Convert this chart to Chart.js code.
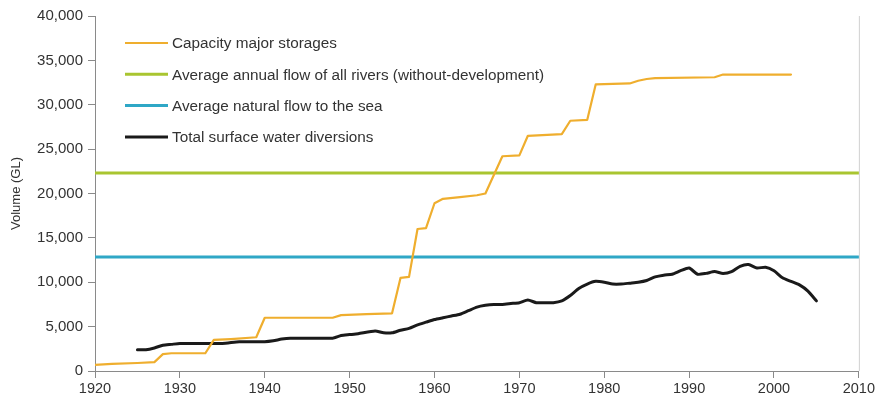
<!DOCTYPE html>
<html>
<head>
<meta charset="utf-8">
<script src="https://cdn.jsdelivr.net/npm/chart.js@4.4.1/dist/chart.umd.min.js"></script>
<style>
  html, body { margin: 0; padding: 0; background: #ffffff; }
  #wrap { width: 877px; height: 407px; }
</style>
</head>
<body>
<div id="wrap"><canvas id="c" width="877" height="407"></canvas></div>
<script>
// ---- Data ----
const seriesLabels = [
  "Capacity major storages",
  "Average annual flow of all rivers (without-development)",
  "Average natural flow to the sea",
  "Total surface water diversions"
];

const capYears  = [1920,1922,1925,1927,1928,1929,1933,1934,1936,1939,1940,1948,1949,1952,1955,1956,1957,1958,1959,1960,1961,1963,1965,1966,1968,1970,1971,1975,1976,1978,1979,1983,1984,1985,1986,1993,1994,2002];
const capValues = [700,800,900,1000,1900,2000,2000,3500,3600,3800,6000,6000,6300,6400,6500,10500,10600,16000,16100,18900,19400,19600,19800,20000,24200,24300,26500,26700,28200,28300,32300,32400,32700,32900,33000,33100,33400,33400];

const flowYears  = [1920, 2010];
const flowValues = [22300, 22300];

const seaYears  = [1920, 2010];
const seaValues = [12850, 12850];

const divYears  = [1925,1926,1927,1928,1929,1930,1935,1937,1940,1941,1942,1943,1948,1949,1950,1951,1953,1954,1955,1956,1957,1958,1959,1960,1961,1962,1963,1964,1965,1966,1967,1968,1969,1970,1971,1972,1973,1974,1975,1976,1977,1978,1979,1980,1981,1982,1983,1984,1985,1986,1987,1988,1989,1990,1991,1992,1993,1994,1995,1996,1997,1998,1999,2000,2001,2002,2003,2004,2005];
const divValues = [2400,2400,2600,2900,3000,3100,3100,3300,3300,3400,3600,3700,3700,4000,4100,4200,4500,4300,4300,4600,4800,5200,5500,5800,6000,6200,6400,6800,7200,7400,7500,7500,7600,7700,8000,7700,7700,7700,7900,8500,9300,9800,10100,10000,9800,9800,9900,10000,10200,10600,10800,10900,11300,11600,10900,11000,11200,11000,11200,11800,12000,11600,11700,11300,10500,10100,9700,9000,7900];

const xTicks = [1920,1930,1940,1950,1960,1970,1980,1990,2000,2010];
const yTicks = [0,5000,10000,15000,20000,25000,30000,35000,40000];

const colors = ["#EFAE2E", "#A9C530", "#2FA7C6", "#1A1A1A"];
const widths = [2.2, 3, 3, 3];

function pts(xs, ys) { return xs.map((x, i) => ({ x: x, y: ys[i] })); }

const FONT = "'Liberation Sans', Arial, sans-serif";

// legend drawn inside the plot area
const insideLegend = {
  id: 'insideLegend',
  afterDatasetsDraw(chart) {
    const ctx = chart.ctx;
    const a = chart.chartArea;
    const x0 = a.left + 30, x1 = a.left + 73, tx = a.left + 77;
    const y0 = a.top + 27, dy = 31.3;
    ctx.save();
    ctx.font = "15.3px " + FONT;
    ctx.textBaseline = 'middle';
    ctx.textAlign = 'left';
    chart.data.datasets.forEach((ds, i) => {
      const y = y0 + i * dy;
      ctx.strokeStyle = ds.borderColor;
      ctx.lineWidth = ds.borderWidth;
      ctx.beginPath();
      ctx.moveTo(x0, y);
      ctx.lineTo(x1, y);
      ctx.stroke();
      ctx.fillStyle = '#333333';
      ctx.fillText(ds.label, tx, y + 1);
    });
    ctx.restore();
  }
};

const rightFrame = {
  id: 'rightFrame',
  beforeDatasetsDraw(chart) {
    const ctx = chart.ctx;
    const a = chart.chartArea;
    ctx.save();
    ctx.strokeStyle = '#d0d0d0';
    ctx.lineWidth = 1;
    ctx.beginPath();
    ctx.moveTo(a.right + 0.5, a.top);
    ctx.lineTo(a.right + 0.5, a.bottom);
    ctx.stroke();
    ctx.restore();
  }
};

new Chart(document.getElementById('c'), {
  type: 'line',
  data: {
    datasets: [
      { label: seriesLabels[0], data: pts(capYears, capValues) },
      { label: seriesLabels[1], data: pts(flowYears, flowValues) },
      { label: seriesLabels[2], data: pts(seaYears, seaValues) },
      { label: seriesLabels[3], data: pts(divYears, divValues) }
    ].map((d, i) => Object.assign(d, {
      borderColor: colors[i],
      backgroundColor: colors[i],
      borderWidth: widths[i],
      pointRadius: 0,
      fill: false,
      tension: i === 3 ? 0.2 : 0,
      borderJoinStyle: 'round',
      borderCapStyle: 'round'
    }))
  },
  options: {
    responsive: false,
    animation: false,
    layout: { autoPadding: false, padding: { left: 0, right: 13, top: 16, bottom: 0 } },
    plugins: {
      legend: { display: false },
      tooltip: { enabled: false }
    },
    scales: {
      x: {
        type: 'linear',
        min: 1920, max: 2010,
        afterBuildTicks: s => { s.ticks = xTicks.map(v => ({ value: v })); },
        afterFit: s => { s.height = 36; },
        ticks: {
          font: { family: FONT, size: 14.5 },
          color: '#333333',
          padding: 2,
          maxRotation: 0,
          callback: v => String(v)
        },
        grid: { drawOnChartArea: false, drawTicks: true, tickLength: 7, color: '#8a8a8a' },
        border: { display: true, color: '#8a8a8a', width: 1 }
      },
      y: {
        type: 'linear',
        min: 0, max: 40000,
        afterBuildTicks: s => { s.ticks = yTicks.map(v => ({ value: v })); },
        afterFit: s => { s.width = 95; },
        ticks: {
          font: { family: FONT, size: 15 },
          color: '#333333',
          padding: 5,
          callback: v => v.toLocaleString('en-US')
        },
        grid: { drawOnChartArea: false, drawTicks: true, tickLength: 7, color: '#8a8a8a' },
        border: { display: true, color: '#8a8a8a', width: 1 },
        title: {
          display: true,
          text: 'Volume (GL)',
          font: { family: FONT, size: 13 },
          color: '#333333',
          padding: { top: 9, bottom: 0 }
        }
      }
    }
  },
  plugins: [rightFrame, insideLegend]
});
</script>
</body>
</html>
